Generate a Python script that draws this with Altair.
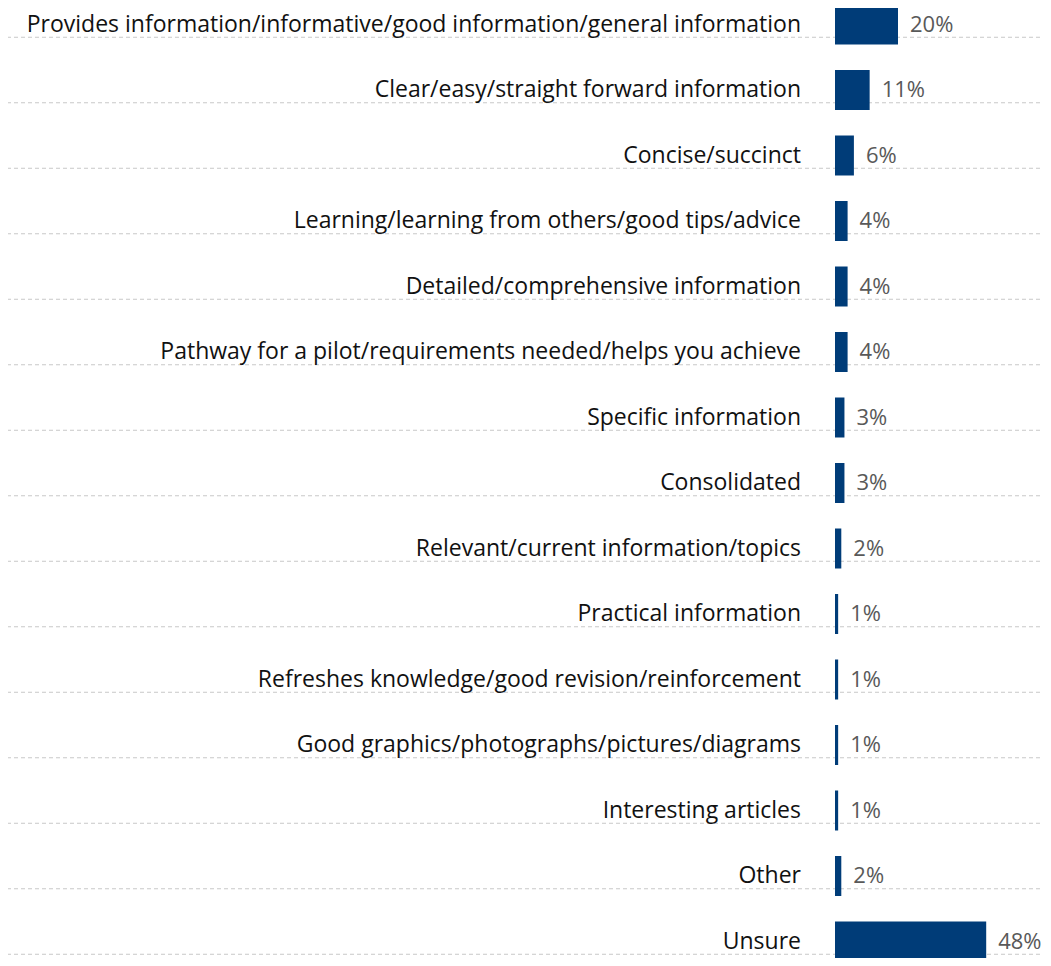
import altair as alt
import pandas as pd

labels = [
    "Provides information/informative/good information/general information",
    "Clear/easy/straight forward information",
    "Concise/succinct",
    "Learning/learning from others/good tips/advice",
    "Detailed/comprehensive information",
    "Pathway for a pilot/requirements needed/helps you achieve",
    "Specific information",
    "Consolidated",
    "Relevant/current information/topics",
    "Practical information",
    "Refreshes knowledge/good revision/reinforcement",
    "Good graphics/photographs/pictures/diagrams",
    "Interesting articles",
    "Other",
    "Unsure",
]
values = [20, 11, 6, 4, 4, 4, 3, 3, 2, 1, 1, 1, 1, 2, 48]

df = pd.DataFrame({"label": labels, "value": values})
df["text"] = df["value"].astype(str) + "%"

FONT = "Open Sans"
STEP = 65.5
N = len(labels)
TOP = -16.25

yscale = alt.Scale(
    range=[TOP, TOP + STEP * N],
    paddingInner=(STEP - 40) / STEP,
    paddingOuter=(STEP - 40) / STEP / 2,
)

base = alt.Chart(df)

rules = base.mark_rule(color="#c8c8c8", strokeDash=[4, 3], strokeWidth=1).encode(
    y=alt.Y("label:N", sort=labels, axis=None, scale=yscale, bandPosition=0.5),
    yOffset=alt.value(STEP / 2),
    x=alt.value(-8),
    x2=alt.value(1035),
)

yenc = alt.Y("label:N", sort=labels, axis=None, scale=yscale)
xscale = alt.Scale(domain=[0, 100], range=[827, 1142])

bars = base.mark_bar(color="#003C78").encode(
    y=yenc,
    x=alt.X("value:Q", scale=xscale, axis=None),
)

vals = base.mark_text(
    align="left", baseline="middle", dx=12, font=FONT, fontSize=22, color="#595959"
).encode(
    y=yenc,
    x=alt.X("value:Q", scale=xscale, axis=None),
    text="text:N",
)

labs = base.mark_text(
    align="right", baseline="middle", font=FONT, fontSize=23, color="#111111"
).encode(
    y=yenc,
    x=alt.value(793),
    text="label:N",
)

chart = (
    alt.layer(rules, bars, vals, labs)
    .properties(width=1035, height=950, autosize=alt.AutoSizeParams(type="none"), padding=0)
    .configure_view(stroke=None)
)

chart.save("out.html", embed_options={"renderer": "svg", "actions": False})
